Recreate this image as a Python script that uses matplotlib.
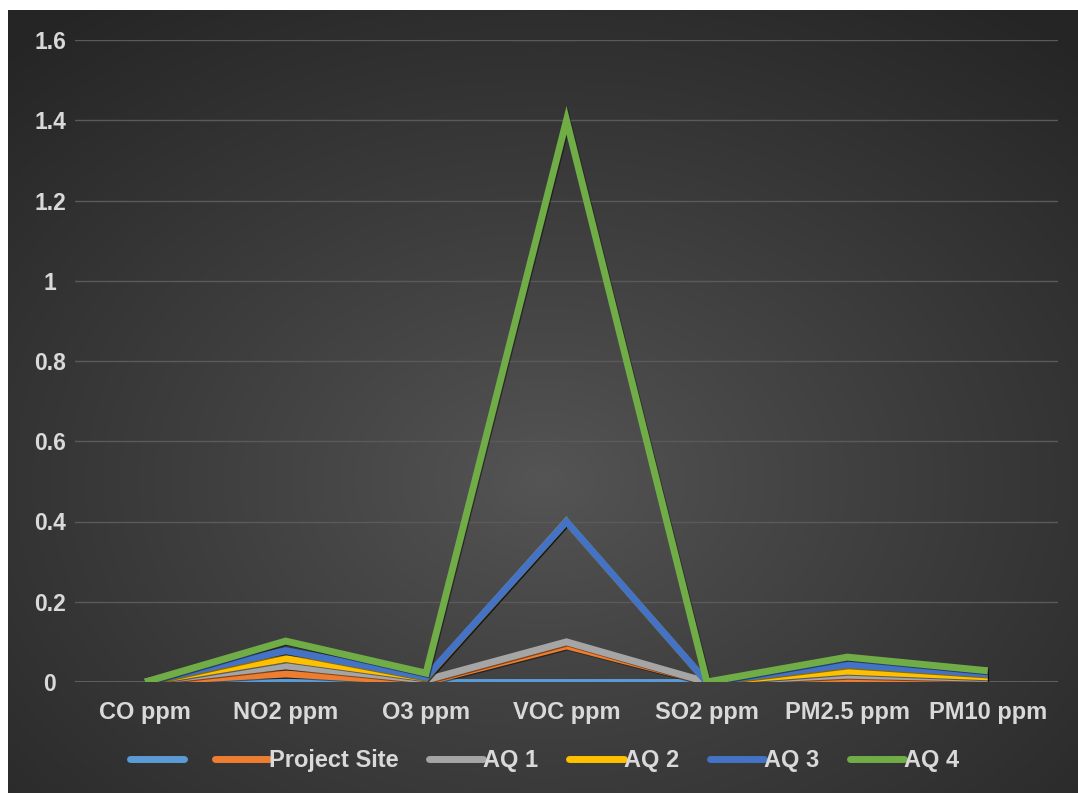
import numpy as np
import matplotlib
matplotlib.use("Agg")
import matplotlib.pyplot as plt
from matplotlib.lines import Line2D
import matplotlib.patheffects as pe

categories = ["CO ppm", "NO2 ppm", "O3 ppm", "VOC ppm", "SO2 ppm", "PM2.5 ppm", "PM10 ppm"]
series_names = ["", "Project Site", "AQ 1", "AQ 2", "AQ 3", "AQ 4"]
s0 = [0, 0, 0, 0, 0, 0, 0]
project_site = [0, 0.02, 0.0, 0.09, 0, 0.008, 0.006]
aq1 = [0, 0.04, 0.005, 0.1, 0, 0.017, 0.009]
aq2 = [0, 0.058, 0.01, 0.4, 0, 0.027, 0.013]
aq3 = [0, 0.078, 0.012, 0.4, 0, 0.043, 0.02]
aq4 = [0, 0.102, 0.022, 1.4, 0, 0.062, 0.028]
yticks = [0, 0.2, 0.4, 0.6, 0.8, 1, 1.2, 1.4, 1.6]
ytick_labels = ["0", "0.2", "0.4", "0.6", "0.8", "1", "1.2", "1.4", "1.6"]

colors = ["#5B9BD5", "#ED7D31", "#A5A5A5", "#FFC000", "#4472C4", "#70AD47"]
data = [s0, project_site, aq1, aq2, aq3, aq4]

W, H = 1078, 793
fig = plt.figure(figsize=(W / 100, H / 100), dpi=100)
fig.patch.set_facecolor("white")

# background with radial gradient
bg = fig.add_axes([8 / W, 0, (W - 8) / W, (H - 10) / H])
bg.set_axis_off()
ny, nx = 400, 540
yy, xx = np.mgrid[0:ny, 0:nx]
cx, cy = nx * 0.5, ny * 0.6
r = np.sqrt(((xx - cx) / nx) ** 2 + ((yy - cy) / ny) ** 2) / 0.75
r = np.clip(r, 0, 1) ** 0.9
c_in = np.array([0x55, 0x55, 0x55]) / 255
c_out = np.array([0x25, 0x25, 0x25]) / 255
img = c_in[None, None, :] * (1 - r[..., None]) + c_out[None, None, :] * r[..., None]
bg.imshow(img, aspect="auto", extent=[0, 1, 0, 1], origin="upper")
bg.set_xlim(0, 1)
bg.set_ylim(0, 1)

ax = fig.add_axes([75 / W, (H - 682) / H, (1058 - 75) / W, (682 - 40) / H])
ax.patch.set_alpha(0)
x = np.arange(len(categories))
shadow = [pe.SimpleLineShadow(offset=(0.8, -0.8), shadow_color="black", alpha=0.45), pe.Normal()]
handles = []
for vals, col, name in zip(data, colors, series_names):
    ax.plot(x, vals, color=col, lw=5.0, solid_joinstyle="miter", solid_capstyle="butt",
            path_effects=shadow, zorder=3)
    handles.append(Line2D([], [], color=col, lw=5.0, solid_capstyle="round"))

ax.set_xlim(-0.5, len(categories) - 0.5)
ax.set_ylim(0, 1.6)
ax.set_yticks(yticks)
ax.set_yticklabels(ytick_labels)
ax.set_xticks(x)
ax.set_xticklabels(categories)
for s in ax.spines.values():
    s.set_visible(False)
ax.grid(axis="y", color="#5a5a5a", lw=1.0, zorder=0)
ax.axhline(0, color="#6a6a6a", lw=1.2, zorder=1)
ax.tick_params(length=0, colors="#d9d9d9", labelsize=17)
ax.tick_params(axis="x", pad=14)
ax.tick_params(axis="y", pad=18, labelsize=16.5)
for t in ax.get_xticklabels() + ax.get_yticklabels():
    t.set_fontfamily("Liberation Sans")
    t.set_fontweight("bold")
    t.set_color("#d9d9d9")
for t in ax.get_yticklabels():
    t.set_horizontalalignment("center")

leg = fig.legend(handles, series_names, loc="center", bbox_to_anchor=(0.505, (H - 761) / H),
                 ncol=6, frameon=False, handlelength=2.3, handletextpad=0.0,
                 columnspacing=1.3, prop={"family": "Liberation Sans", "weight": "bold", "size": 17})
for t in leg.get_texts():
    t.set_color("#d9d9d9")

fig.savefig("out.png", dpi=100)
